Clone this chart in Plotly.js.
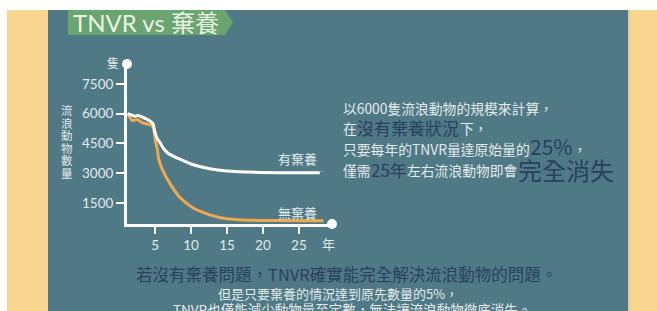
<!DOCTYPE html>
<html>
<head>
<meta charset="utf-8">
<script src="https://cdn.plot.ly/plotly-3.0.1.min.js"></script>
<style>html,body{margin:0;padding:0;background:#fff;}#chart{width:657px;height:311px;}</style>
</head>
<body>
<div id="chart"></div>
<script>
// ---- data ----
const yearsWith = [1.2, 2.2, 2.6, 3.2, 4.2, 4.7, 5.0, 5.3, 5.7, 6.2, 6.9, 8.3, 10.1, 12.6, 15.0, 19.6, 24.2, 27.9];
const countWith = [6000, 5870, 5900, 5830, 5650, 5500, 5040, 4740, 4540, 4230, 3980, 3730, 3450, 3220, 3110, 3040, 3020, 3020];
const yearsWithout = [1.2, 1.8, 2.5, 3.2, 4.2, 4.6, 4.85, 5.0, 5.3, 5.5, 5.8, 6.1, 7.1, 8.5, 10.3, 12.6, 15.0, 17.2, 19.6, 24.2, 28.4];
const countWithout = [6000, 5650, 5700, 5550, 5450, 5400, 5150, 4740, 4230, 3730, 3370, 3120, 2460, 1760, 1250, 900, 700, 640, 620, 610, 600];
const yTickVals = [1500, 3000, 4500, 6000, 7500];
const xTickVals = [5, 10, 15, 20, 25];
const seriesWith = '有棄養';
const seriesWithout = '無棄養';
const yUnit = '隻';
const xUnit = '年';
const yTitle = '流浪動物數量';
const title = 'TNVR vs 棄養';
// side note: each line is a list of [text, emphasised?]
const noteLines = [
  [['以6000隻流浪動物的規模來計算，', false]],
  [['在', false], ['沒有棄養狀況', true], ['下，', false]],
  [['只要每年的TNVR量達原始量的', false], ['25%', true], ['，', false]],
  [['僅需', false], ['25年', true], ['左右流浪動物即會', false], ['完全消失', true]]
];
const bottomLines = [
  '若沒有棄養問題，TNVR確實能完全解決流浪動物的問題。',
  '但是只要棄養的情況達到原先數量的5%，',
  'TNVR也僅能減少動物量至定數，無法讓流浪動物徹底消失。'
];

const W = 657, H = 311;
const px = x => x / W;
const py = y => 1 - y / H;

const TEAL = '#4f7985';
const YELLOW = '#f8d690';
const GREEN = '#6aa46e';
const LIGHT = '#e3eaec';
const DARK = '#2a3f60';
const FONT = 'Lato, "Noto Sans CJK TC", sans-serif';
const CJK = '"Noto Sans CJK TC", Lato, sans-serif';

const traces = [
  {x: yearsWithout, y: countWithout, type: 'scatter', mode: 'lines', name: seriesWithout,
   line: {color: '#f0a94d', width: 3, shape: 'spline', smoothing: 0.5}, cliponaxis: false, hoverinfo: 'skip'},
  {x: yearsWith, y: countWith, type: 'scatter', mode: 'lines', name: seriesWith,
   line: {color: '#ffffff', width: 3, shape: 'spline', smoothing: 0.5}, cliponaxis: false, hoverinfo: 'skip'}
];

function rect(x0, y0, x1, y1, color) {
  return {type: 'rect', xref: 'paper', yref: 'paper', x0: px(x0), x1: px(x1), y0: py(y1), y1: py(y0),
          fillcolor: color, line: {width: 0}, layer: 'below'};
}
const bannerPath = 'M ' + px(68) + ',' + py(10) + ' L ' + px(225) + ',' + py(10) + ' L ' + px(233) + ',' + py(22.5) +
  ' L ' + px(225) + ',' + py(35) + ' L ' + px(68) + ',' + py(35) + ' Z';

const shapes = [
  rect(7, 10, 48, 311, YELLOW),
  rect(48, 10, 628, 311, TEAL),
  rect(628, 10, 630, 311, '#d8cfa0'),
  rect(630, 10, 657, 311, YELLOW),
  {type: 'path', xref: 'paper', yref: 'paper', path: bannerPath, fillcolor: GREEN, line: {width: 0}, layer: 'below'},
  // axis end dots
  {type: 'circle', xref: 'x domain', yref: 'y domain', xsizemode: 'pixel', ysizemode: 'pixel', xanchor: 0, yanchor: 1,
   x0: -5, x1: 5, y0: -5, y1: 5, fillcolor: '#ffffff', line: {width: 0}, layer: 'above'},
  {type: 'circle', xref: 'x domain', yref: 'y domain', xsizemode: 'pixel', ysizemode: 'pixel', xanchor: 1, yanchor: 0,
   x0: -5, x1: 5, y0: -5, y1: 5, fillcolor: '#ffffff', line: {width: 0}, layer: 'above'}
];

function ann(text, x, y, size, color, xanchor, family) {
  return {text: text, xref: 'paper', yref: 'paper', x: px(x), y: py(y), showarrow: false, borderpad: 0,
          xanchor: xanchor || 'left', yanchor: 'middle', font: {size: size, color: color, family: family || FONT}};
}

const annotations = [
  ann(title, 72, 22.5, 24, '#e9f3e3', 'left', FONT),
  ann(yUnit, 113, 63, 12, LIGHT, 'center', CJK),
  ann(xUnit, 328, 243, 13, LIGHT, 'center', CJK),
  ann(seriesWith, 297, 158, 13, LIGHT, 'center', CJK),
  ann(seriesWithout, 297, 212, 13, LIGHT, 'center', CJK),
  ann('•', 321, 170, 5, LIGHT, 'center', CJK),
  ann(bottomLines[0], 346, 274, 16.5, DARK, 'center', CJK),
  ann(bottomLines[1], 338, 293, 13, LIGHT, 'center', CJK),
  ann(bottomLines[2], 352, 309, 13.5, LIGHT, 'center', CJK)
];

// side note: segments laid out left to right using measured text widths
const ctx = document.createElement('canvas').getContext('2d');
function textWidth(t, size) {
  ctx.font = size + 'px "Noto Sans CJK TC"';
  return ctx.measureText(t).width;
}
const noteLineY = [108, 128, 148.5, 170];
// emphasised segment sizes / vertical centres
const emphStyle = {
  '沒有棄養狀況': [17, 127.5],
  '25%': [21, 146],
  '25年': [17, 169.5],
  '完全消失': [24, 169]
};
const LIGHT_SIZE = 13.8;
noteLines.forEach((segs, li) => {
  let x = 342;
  segs.forEach(([t, emph]) => {
    const size = emph ? emphStyle[t][0] : LIGHT_SIZE;
    const y = emph ? emphStyle[t][1] : noteLineY[li];
    annotations.push(ann(t, x, y, size, emph ? DARK : LIGHT, 'left', CJK));
    x += textWidth(t, size) + (emph ? 1 : 0);
  });
});

// vertical y-axis title, one character per row
Array.from(yTitle).forEach((ch, i) => {
  annotations.push(ann(ch, 67, 110 + i * 12.6, 11.5, LIGHT, 'center', CJK));
});

const layout = {
  width: W, height: H,
  margin: {l: 0, r: 0, t: 0, b: 0, pad: 0},
  paper_bgcolor: '#ffffff',
  plot_bgcolor: 'rgba(0,0,0,0)',
  showlegend: false,
  font: {family: FONT, color: LIGHT},
  xaxis: {
    domain: [px(127), px(332)], range: [1.1, 29.6],
    showline: true, linecolor: '#ffffff', linewidth: 3,
    showgrid: false, zeroline: false,
    tickmode: 'array', tickvals: xTickVals, ticktext: xTickVals.map(String),
    ticks: 'outside', ticklen: 7, tickwidth: 2, tickcolor: '#ffffff',
    tickfont: {size: 13.5, color: LIGHT, family: FONT}, fixedrange: true
  },
  yaxis: {
    domain: [py(224), py(64)], range: [440, 8500],
    showline: true, linecolor: '#ffffff', linewidth: 3,
    showgrid: false, zeroline: false,
    tickmode: 'array', tickvals: yTickVals, ticktext: yTickVals.map(String),
    ticks: 'outside', ticklen: 8, tickwidth: 2, tickcolor: '#ffffff',
    tickfont: {size: 13.5, color: LIGHT, family: FONT}, fixedrange: true
  },
  shapes: shapes,
  annotations: annotations
};

Plotly.newPlot('chart', traces, layout, {displayModeBar: false, staticPlot: true});
</script>
</body>
</html>
